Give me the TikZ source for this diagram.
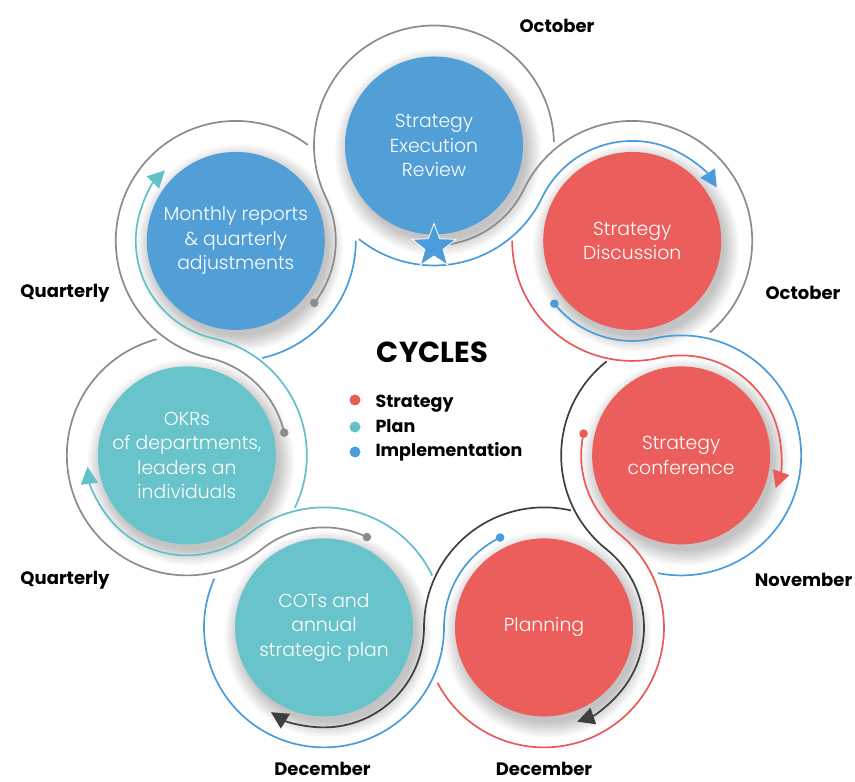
\documentclass[tikz,border=0pt]{standalone}
\usepackage{fontspec}
\setmainfont{Poppins}
\newfontfamily\lightfont{Poppins Light}
\usetikzlibrary{arrows.meta,shapes.geometric,calc}
\definecolor{cBlue}{HTML}{529FD7}
\definecolor{cRed}{HTML}{EB5E5B}
\definecolor{cTeal}{HTML}{68C3CA}
\definecolor{lBlue}{HTML}{4B9CDB}
\definecolor{lRed}{HTML}{E95A58}
\definecolor{lTeal}{HTML}{63C0C8}
\definecolor{lGray}{HTML}{8C8C8C}
\definecolor{lDark}{HTML}{3F3F3F}
\tikzset{
  trk/.style={line width=1.7pt},
  tip/.style={-{Triangle[length=17pt,width=17pt]}},
  bub/.style={circle, minimum size=178pt, inner sep=0pt, text=white, align=center,
    font=\lightfont\fontsize{18.8}{24.5}\selectfont},
  lbl/.style={anchor=base, font=\bfseries\fontsize{18}{20}\selectfont},
  leg/.style={anchor=base west, font=\bfseries\fontsize{17.5}{20}\selectfont}
}
\newcommand\XLine[3]{%
  \pgfmathsetmacro\aS{#3-103}%
  \pgfmathsetmacro\aB{#3+180}%
  \pgfmathsetmacro\aC{#3+58}%
  \draw[trk, tip, draw=#1] (c#2) ++(\aS:120pt) arc[start angle=\aS, end angle=#3, radius=120pt]
    arc[start angle=\aB, end angle=\aC, radius=100pt];
}
\newcommand\YLine[3]{%
  \pgfmathsetmacro\aS{#3-64}%
  \pgfmathsetmacro\aB{#3+180}%
  \pgfmathsetmacro\aC{#3-24}%
  \draw[trk, draw=#1] (c#2) ++(\aS:100pt) arc[start angle=\aS, end angle=#3, radius=100pt]
    arc[start angle=\aB, end angle=\aC, radius=120pt];
}
\newcommand\YDot[3]{%
  \pgfmathsetmacro\aS{#3-64}%
  \fill[#1] (c#2) ++(\aS:100pt) circle[radius=4.3pt];
}
\begin{document}
\begin{tikzpicture}[x=1pt,y=1pt]
\fill[white] (0,0) rectangle (855,782);
\useasboundingbox (0,0) rectangle (855,782);
\foreach \k in {0,...,6}{\path (434,383) ++({90-\k*360/7}:253.52pt) coordinate (c\k);}
% shadows
\foreach \k in {0,...,6}{
  \foreach \i in {0,...,11}{
    \fill[black,opacity=0.018] ($(c\k)+(4,-7)$) circle[radius={88+\i*1.4}];
  }
}
% tracks
\XLine{lBlue}{0}{-25.714}
\YLine{lGray}{0}{-25.714}
\XLine{lRed}{1}{-77.143}
\YLine{lBlue}{1}{-77.143}\YDot{lBlue}{1}{-77.143}
\XLine{lDark}{2}{-128.571}
\YLine{lRed}{2}{-128.571}\YDot{lRed}{2}{-128.571}
\XLine{lDark}{3}{-180}
\YLine{lBlue}{3}{-180}\YDot{lBlue}{3}{-180}
\XLine{lTeal}{4}{-231.429}
\YLine{lGray}{4}{-231.429}\YDot{lGray}{4}{-231.429}
\XLine{lTeal}{5}{-282.857}
\YLine{lGray}{5}{-282.857}\YDot{lGray}{5}{-282.857}
\YLine{lGray}{6}{-334.286}\YDot{lGray}{6}{-334.286}
\draw[trk, draw=lBlue] (c6) ++(-77.29:120pt) arc[start angle=-77.29, end angle=0, radius=120pt];
% circles
\node[bub, fill=cBlue] (n0) at (c0) {Strategy\\Execution\\Review};
\node[bub, fill=cRed]  (n1) at (c1) {Strategy\\Discussion};
\node[bub, fill=cRed]  (n2) at (c2) {Strategy\\conference};
\node[bub, fill=cRed]  (n3) at (c3) {Planning};
\node[bub, fill=cTeal] (n4) at (c4) {COTs and\\annual\\strategic plan};
\node[bub, fill=cTeal] (n5) at (c5) {OKRs\\of departments,\\leaders an\\individuals};
\node[bub, fill=cBlue] (n6) at (c6) {Monthly reports\\\& quarterly\\adjustments};
\node[star, star points=5, star point ratio=2.4, minimum size=46pt, inner sep=0pt,
  fill=lBlue, draw=white, line width=0.8pt] (st) at ($(c0)+(-90:101)$) {};
% month labels
\node[lbl] (m1) at (557,749) {October};
\node[lbl] (m2) at (803,482) {October};
\node[lbl] (m3) at (803.5,195) {November};
\node[lbl] (m4) at (544,6) {December};
\node[lbl] (m5) at (322.5,6) {December};
\node[lbl] (m6) at (65,197) {Quarterly};
\node[lbl] (m7) at (65,484) {Quarterly};
% center
\node[anchor=base, font=\bfseries\fontsize{29}{32}\selectfont] (title) at (432.5,419) {CYCLES};
\fill[lRed]  (355,382) circle[radius=5.5pt];
\fill[lTeal] (355,355) circle[radius=5.5pt];
\fill[lBlue] (355,330) circle[radius=5.5pt];
\node[leg] (g1) at (372,374) {Strategy};
\node[leg] (g2) at (372,349) {Plan};
\node[leg] (g3) at (372,325) {Implementation};
\end{tikzpicture}
\end{document}
